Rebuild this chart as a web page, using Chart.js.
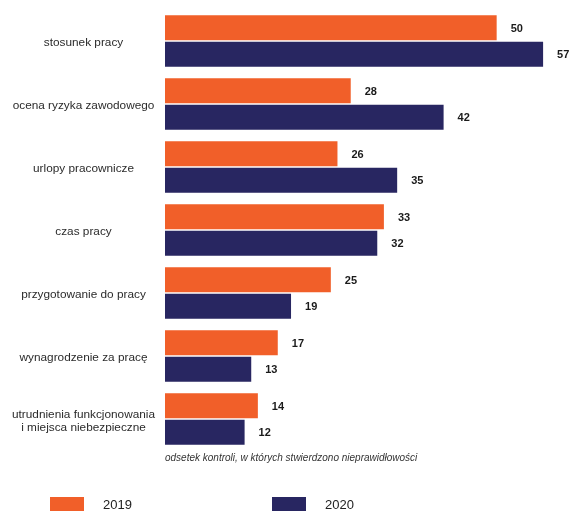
<!DOCTYPE html>
<html>
<head>
<meta charset="utf-8">
<script src="https://cdn.jsdelivr.net/npm/chart.js@4/dist/chart.umd.min.js"></script>
<style>
  html, body { margin: 0; padding: 0; background: #fff; }
  #wrap { width: 570px; height: 511px; }
</style>
</head>
<body>
<div id="wrap"><canvas id="chart"></canvas></div>
<script>
// --- data ---
const categories = [
    'stosunek pracy',
    'ocena ryzyka zawodowego',
    'urlopy pracownicze',
    'czas pracy',
    'przygotowanie do pracy',
    'wynagrodzenie za pracę',
    ['utrudnienia funkcjonowania', 'i miejsca niebezpieczne']
];
const values2019 = [50, 28, 26, 33, 25, 17, 14];
const values2020 = [57, 42, 35, 32, 19, 13, 12];
const seriesNames = ['2019', '2020'];
const noteText = 'odsetek kontroli, w których stwierdzono nieprawidłowości';

const ORANGE = '#f15f29';
const NAVY = '#282661';
const FONT = "'Liberation Sans', Arial, sans-serif";

// value labels at the end of each bar
const valueLabels = {
    id: 'valueLabels',
    afterDatasetsDraw(chart) {
        const ctx = chart.ctx;
        ctx.save();
        ctx.font = 'bold 11px ' + FONT;
        ctx.fillStyle = '#1a1a1a';
        ctx.textAlign = 'left';
        ctx.textBaseline = 'middle';
        chart.data.datasets.forEach((ds, i) => {
            chart.getDatasetMeta(i).data.forEach((bar, j) => {
                ctx.fillText(String(ds.data[j]), bar.x + 14, bar.y + 1);
            });
        });
        ctx.restore();
    }
};

// note under the bars + legend row at the bottom
const footer = {
    id: 'footer',
    afterDraw(chart) {
        const ctx = chart.ctx;
        const area = chart.chartArea;
        ctx.save();
        ctx.font = 'italic 10px ' + FONT;
        ctx.fillStyle = '#333';
        ctx.textBaseline = 'middle';
        ctx.fillText(noteText, area.left, 458);

        const legendX = [50, 272];
        ctx.font = '13px ' + FONT;
        chart.data.datasets.forEach((ds, i) => {
            ctx.fillStyle = ds.backgroundColor;
            ctx.fillRect(legendX[i], 497, 34, 16);
            ctx.fillStyle = '#222';
            ctx.fillText(ds.label, legendX[i] + 53, 505);
        });
        ctx.restore();
    }
};

new Chart(document.getElementById('chart'), {
    type: 'bar',
    data: {
        labels: categories,
        datasets: [
            { label: seriesNames[0], data: values2019, backgroundColor: ORANGE },
            { label: seriesNames[1], data: values2020, backgroundColor: NAVY }
        ]
    },
    options: {
        indexAxis: 'y',
        responsive: true,
        maintainAspectRatio: false,
        animation: false,
        categoryPercentage: 0.84,
        barPercentage: 0.95,
        layout: { padding: { top: 9.5, bottom: 60.5, left: 0, right: 7 } },
        plugins: {
            legend: { display: false },
            tooltip: { enabled: false }
        },
        scales: {
            x: { display: false, min: 0, max: 60 },
            y: {
                grid: { display: false, drawTicks: false },
                border: { display: false },
                afterFit: (axis) => {
                    axis.width = 165;
                    // bars fill the full height, labels don't need extra room
                    axis.paddingTop = 0;
                    axis.paddingBottom = 0;
                },
                ticks: {
                    crossAlign: 'center',
                    padding: 10,
                    labelOffset: 2,
                    color: '#2b2b2b',
                    font: { family: FONT, size: 11.8, lineHeight: 1.12 }
                }
            }
        }
    },
    plugins: [valueLabels, footer]
});
</script>
</body>
</html>
